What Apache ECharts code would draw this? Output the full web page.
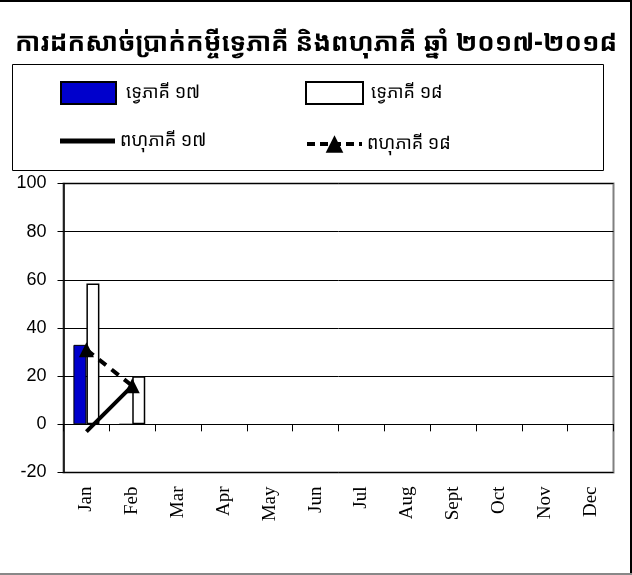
<!DOCTYPE html>
<html>
<head>
<meta charset="utf-8">
<script src="https://cdn.jsdelivr.net/npm/echarts@6/dist/echarts.min.js"></script>
<style>
html,body{margin:0;padding:0;background:#fff;}
#chart{width:632px;height:575px;}
</style>
</head>
<body>
<div id="chart"></div>
<script>
const titleText = 'ការដកសាច់ប្រាក់កម្ចីទ្វេភាគី និងពហុភាគី ឆ្នាំ ២០១៧-២០១៨';
const categories = ['Jan','Feb','Mar','Apr','May','Jun','Jul','Aug','Sept','Oct','Nov','Dec'];
const seriesNames = ['ទ្វេភាគី ១៧','ទ្វេភាគី ១៨','ពហុភាគី ១៧','ពហុភាគី ១៨'];
const bilateral17 = [33, 0, null, null, null, null, null, null, null, null, null, null];
const bilateral18 = [58.5, 20, null, null, null, null, null, null, null, null, null, null];
const multilateral17 = [-3, 16, null, null, null, null, null, null, null, null, null, null];
const multilateral18 = [31, 16, null, null, null, null, null, null, null, null, null, null];
const yTicks = {min: -20, max: 100, interval: 20};

const khmerFont = "'Noto Sans Khmer','Khmer OS','Khmer OS System','Noto Serif Khmer','DejaVu Sans',sans-serif";
const chart = echarts.init(document.getElementById('chart'));
function legendText(padLeft) {
  return {fontFamily: khmerFont, fontSize: 18, color: '#000', padding: [0, 0, 0, padLeft]};
}
const option = {
  backgroundColor: '#fff',
  animation: false,
  title: {
    text: titleText, left: 'center', top: 26,
    textStyle: {fontFamily: khmerFont, fontWeight: 'bold', fontSize: 26, color: '#000'}
  },
  legend: [
    {data: [{name: seriesNames[0], icon: 'rect'}], left: 60, top: 81, padding: 0, itemWidth: 55, itemHeight: 22, textStyle: legendText(5)},
    {data: [{name: seriesNames[1], icon: 'rect'}], left: 305, top: 81, padding: 0, itemWidth: 57, itemHeight: 22, textStyle: legendText(3)},
    {data: [{name: seriesNames[2], icon: 'rect'}], left: 60, top: 132, padding: 0, itemWidth: 55, itemHeight: 5, textStyle: legendText(0)},
    {data: [seriesNames[3]], left: 305, top: 135, padding: 0, itemWidth: 55, itemHeight: 22, textStyle: legendText(0),
     lineStyle: {width: 4, type: [8, 5]}}
  ],
  graphic: [
    {type: 'rect', shape: {x: 12.5, y: 64.5, width: 591, height: 106}, style: {fill: 'none', stroke: '#000', lineWidth: 1}, silent: true},
    {type: 'line', shape: {x1: 0, y1: 1, x2: 632, y2: 1}, style: {stroke: '#000', lineWidth: 2}, silent: true},
    {type: 'line', shape: {x1: 631, y1: 0, x2: 631, y2: 575}, style: {stroke: '#000', lineWidth: 2}, silent: true},
    {type: 'line', shape: {x1: 0, y1: 574, x2: 632, y2: 574}, style: {stroke: '#888', lineWidth: 2}, silent: true}
  ],
  grid: {
    left: 63.5, top: 183.5, right: 18.5, bottom: 102.5,
    show: true, borderColor: '#808080', borderWidth: 2, backgroundColor: 'transparent',
    containLabel: false
  },
  xAxis: [
    {
      type: 'category', data: categories, position: 'bottom',
      axisLine: {show: false, onZero: false},
      axisTick: {show: false},
      axisLabel: {rotate: 90, margin: 14, fontFamily: "'Liberation Serif','Times New Roman',serif", fontSize: 19, color: '#000', interval: 0},
      splitLine: {show: false}
    },
    {
      type: 'category', data: categories, position: 'bottom',
      axisLine: {show: true, onZero: true, onZeroAxisIndex: 0, lineStyle: {color: '#000', width: 1}},
      axisTick: {show: true, length: 7, inside: false, alignWithLabel: false, interval: 0, lineStyle: {color: '#000', width: 1}},
      axisLabel: {show: false},
      splitLine: {show: false}
    }
  ],
  yAxis: {
    type: 'value', min: yTicks.min, max: yTicks.max, interval: yTicks.interval,
    axisLine: {show: true, lineStyle: {color: '#000', width: 1.5}},
    axisTick: {show: true, length: 6, lineStyle: {color: '#000', width: 1}},
    axisLabel: {margin: 17, fontFamily: "'Liberation Sans',Arial,sans-serif", fontSize: 18, color: '#000'},
    splitLine: {show: true, lineStyle: {color: '#000', width: 1}}
  },
  series: [
    {
      name: seriesNames[0], type: 'bar', xAxisIndex: 0, data: bilateral17,
      barWidth: 13, barGap: '0%',
      itemStyle: {color: '#0000cc', borderColor: '#000', borderWidth: 1}, z: 2
    },
    {
      name: seriesNames[1], type: 'bar', xAxisIndex: 0, data: bilateral18,
      barWidth: 13, barGap: '0%',
      itemStyle: {color: '#fff', borderColor: '#000', borderWidth: 1.5}, z: 2
    },
    {
      name: seriesNames[2], type: 'line', xAxisIndex: 0, data: multilateral17,
      symbol: 'none', connectNulls: false,
      lineStyle: {color: '#000', width: 4, type: 'solid'},
      itemStyle: {color: '#000'}, z: 5
    },
    {
      name: seriesNames[3], type: 'line', xAxisIndex: 0, data: multilateral18,
      symbol: 'triangle', symbolSize: 15, connectNulls: false,
      lineStyle: {color: '#000', width: 4, type: [9, 7]},
      itemStyle: {color: '#000'}, z: 6
    }
  ]
};
chart.setOption(option);
</script>
</body>
</html>
